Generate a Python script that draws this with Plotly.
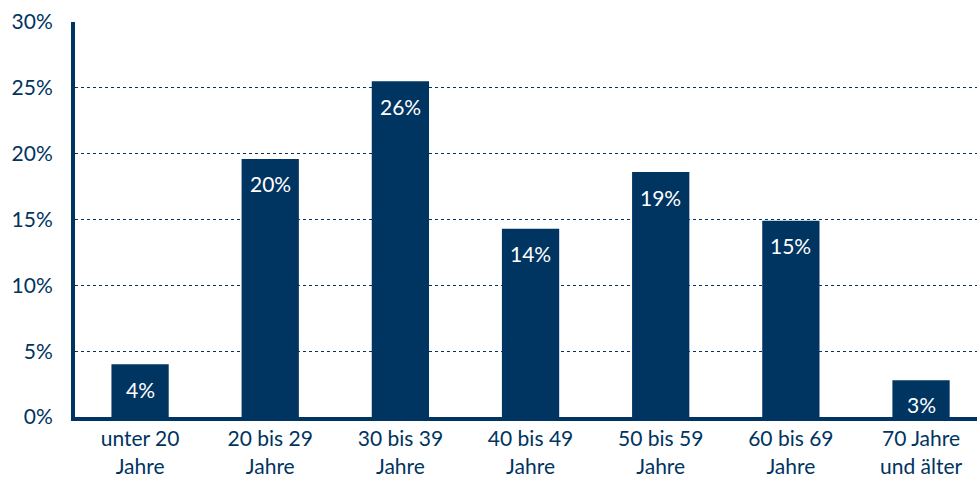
import plotly.graph_objects as go

categories = ["unter 20<br>Jahre", "20 bis 29<br>Jahre", "30 bis 39<br>Jahre", "40 bis 49<br>Jahre",
              "50 bis 59<br>Jahre", "60 bis 69<br>Jahre", "70 Jahre<br>und älter"]
values = [4.0, 19.6, 25.5, 14.3, 18.6, 14.9, 2.8]
labels = ["4%", "20%", "26%", "14%", "19%", "15%", "3%"]
y_ticks = [0, 5, 10, 15, 20, 25, 30]
y_tick_labels = ["0%", "5%", "10%", "15%", "20%", "25%", "30%"]

navy = "#003461"
font_family = "Lato, 'Noto Sans', sans-serif"

fig = go.Figure()
fig.add_trace(go.Bar(x=categories, y=values, marker=dict(color=navy, line=dict(width=0)),
                     hoverinfo="skip"))

for c, v, t in zip(categories, values, labels):
    fig.add_annotation(x=c, y=v, text=t, showarrow=False, yanchor="middle",
                       yshift=-min(25, v * 13.17 / 2 + 6),
                       font=dict(color="white", size=21, family=font_family))

fig.update_layout(
    width=977, height=482,
    margin=dict(l=75, r=0, t=22, b=65),
    paper_bgcolor="white", plot_bgcolor="white",
    bargap=0.56, showlegend=False,
    font=dict(family=font_family, color=navy, size=21),
)
fig.update_xaxes(showline=True, linecolor=navy, linewidth=4, ticks="", showgrid=False,
                 range=[-0.5, 6.43],
                 tickfont=dict(size=21, color=navy))
fig.update_yaxes(range=[0, 30], tickvals=y_ticks, ticktext=y_tick_labels,
                 showline=True, linecolor=navy, linewidth=4, ticks="",
                 showgrid=True, gridcolor=navy, gridwidth=1, griddash="dot",
                 zeroline=False, ticklabelstandoff=14,
                 tickfont=dict(size=21, color=navy))

fig.write_html("out.html")
